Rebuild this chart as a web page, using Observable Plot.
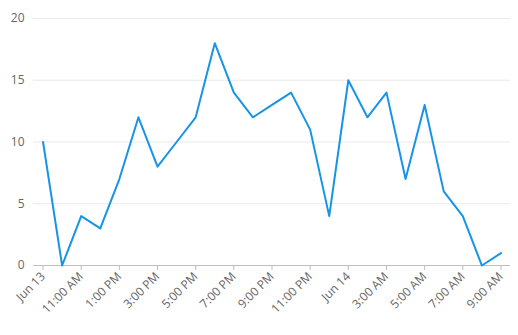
<!DOCTYPE html>
<html>
<head>
<meta charset="utf-8">
<script src="https://cdn.jsdelivr.net/npm/d3@7"></script>
<script src="https://cdn.jsdelivr.net/npm/@observablehq/plot@0.6"></script>
<style>
  html, body { margin: 0; padding: 0; background: #fff; }
</style>
</head>
<body>
<div id="chart"></div>
<script>
const times = [
  "2024-06-13T09:00Z","2024-06-13T10:00Z","2024-06-13T11:00Z","2024-06-13T12:00Z",
  "2024-06-13T13:00Z","2024-06-13T14:00Z","2024-06-13T15:00Z","2024-06-13T16:00Z",
  "2024-06-13T17:00Z","2024-06-13T18:00Z","2024-06-13T19:00Z","2024-06-13T20:00Z",
  "2024-06-13T21:00Z","2024-06-13T22:00Z","2024-06-13T23:00Z","2024-06-14T00:00Z",
  "2024-06-14T01:00Z","2024-06-14T02:00Z","2024-06-14T03:00Z","2024-06-14T04:00Z",
  "2024-06-14T05:00Z","2024-06-14T06:00Z","2024-06-14T07:00Z","2024-06-14T08:00Z",
  "2024-06-14T09:00Z"
];
const values = [10,0,4,3,7,12,8,10,12,18,14,12,13,14,11,4,15,12,14,7,13,6,4,0,1];

const tickTimes = [
  "2024-06-13T09:00Z","2024-06-13T11:00Z","2024-06-13T13:00Z","2024-06-13T15:00Z",
  "2024-06-13T17:00Z","2024-06-13T19:00Z","2024-06-13T21:00Z","2024-06-13T23:00Z",
  "2024-06-14T01:00Z","2024-06-14T03:00Z","2024-06-14T05:00Z","2024-06-14T07:00Z",
  "2024-06-14T09:00Z"
];
const tickLabels = [
  "Jun 13","11:00 AM","1:00 PM","3:00 PM","5:00 PM","7:00 PM","9:00 PM","11:00 PM",
  "Jun 14","3:00 AM","5:00 AM","7:00 AM","9:00 AM"
];
const yTicks = [0,5,10,15,20];
const xDomain = ["2024-06-13T08:30Z","2024-06-14T09:30Z"];

const data = times.map((t, i) => ({time: new Date(t), value: values[i]}));
const tickDates = tickTimes.map(t => new Date(t));
const labelOf = new Map(tickDates.map((d, i) => [+d, tickLabels[i]]));

const chart = Plot.plot({
  width: 518,
  height: 335,
  marginLeft: 33,
  marginRight: 8,
  marginTop: 18,
  marginBottom: 70,
  style: {fontFamily: "'Open Sans', sans-serif", fontSize: "12px", color: "#666", background: "#fff"},
  x: {type: "utc", domain: xDomain.map(d => new Date(d))},
  y: {domain: [0, 20]},
  marks: [
    Plot.gridY(yTicks, {stroke: "#e9e9e9", strokeOpacity: 1}),
    Plot.axisY(yTicks, {tickSize: 0, tickPadding: 9, label: null, fill: "#666"}),
    Plot.ruleY([0], {stroke: "#bdbdbd"}),
    Plot.axisX(tickDates, {
      tickSize: 5, tickPadding: 4, tickRotate: -45, label: null,
      stroke: "#bdbdbd", fill: "#666",
      tickFormat: d => labelOf.get(+d)
    }),
    Plot.line(data, {x: "time", y: "value", stroke: "#1794e6", strokeWidth: 2})
  ]
});
document.getElementById("chart").append(chart);
</script>
</body>
</html>
